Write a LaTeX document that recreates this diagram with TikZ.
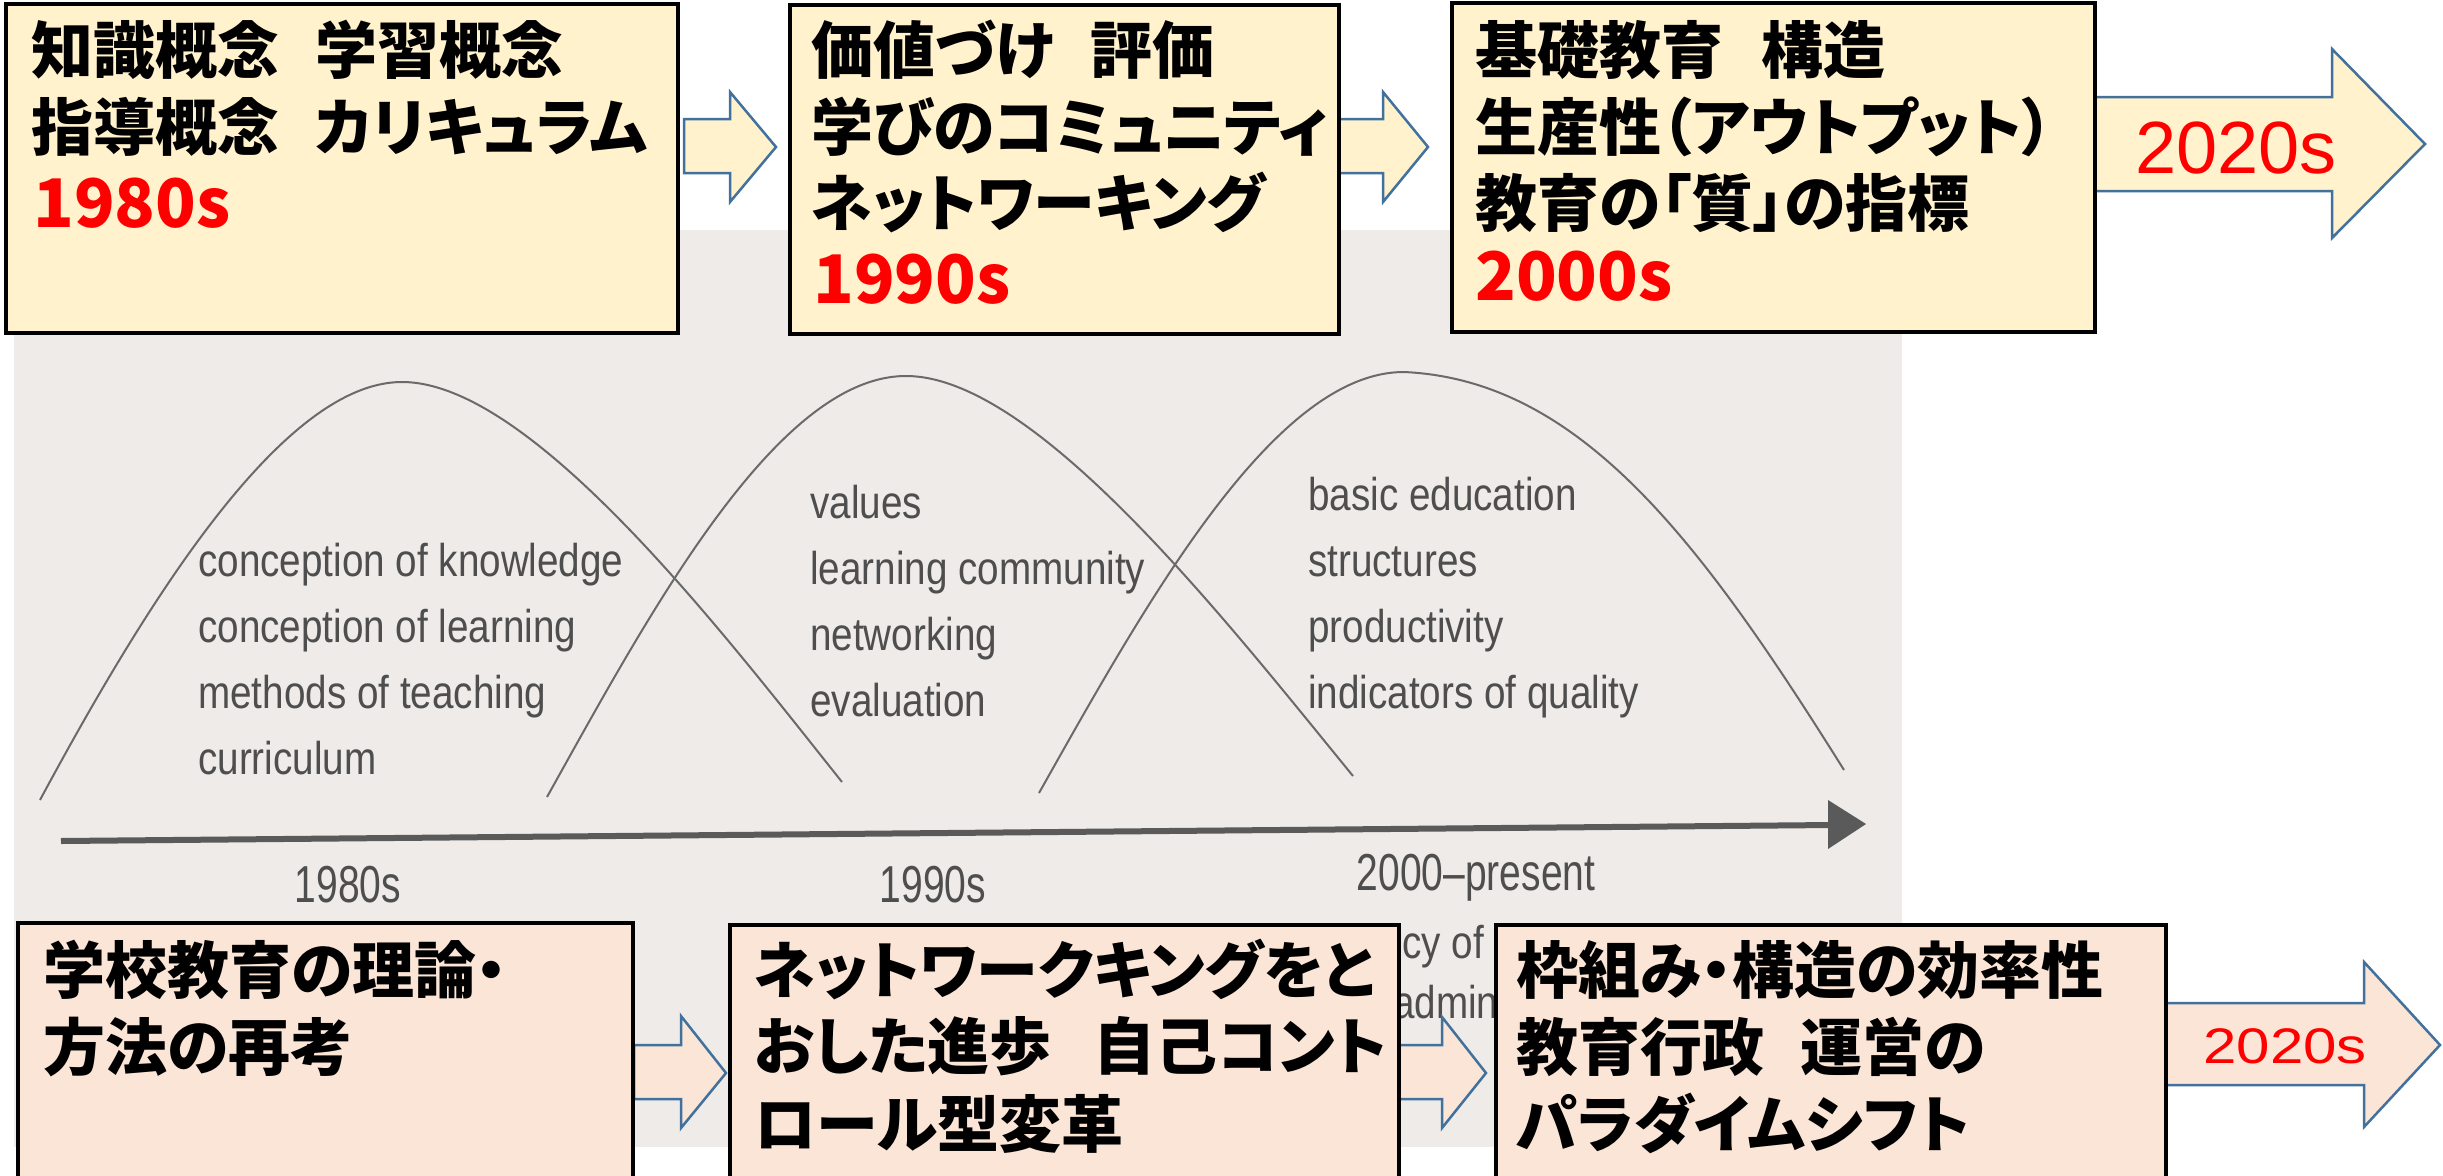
\documentclass[tikz,border=0pt]{standalone}
\usepackage{fontspec}
\newfontfamily\jpf[RawFeature=+palt]{Noto Sans CJK JP}
\newfontfamily\arf{Liberation Sans}
\newfontfamily\arwidef[FakeStretch=1.2]{Liberation Sans}
\newfontfamily\photof[FakeStretch=0.84]{Liberation Sans}
\newfontfamily\photolabf[FakeStretch=0.75]{Liberation Sans}
\usetikzlibrary{calc}
\definecolor{cYellow}{HTML}{FFF2CC}
\definecolor{cPeach}{HTML}{FBE5D6}
\definecolor{cBlue}{HTML}{41719C}
\definecolor{cRed}{HTML}{FF0000}
\definecolor{cPhoto}{HTML}{EEEBE8}
\definecolor{cInk}{HTML}{4E4E4E}
\definecolor{cCurve}{HTML}{6A6A6A}
\definecolor{cAxis}{HTML}{5A5A5A}
\tikzset{
  yellowbox/.style={draw=black, line width=3.5pt, fill=cYellow, anchor=north west, inner sep=0pt, outer sep=0pt},
  peachbox/.style={draw=black, line width=3.5pt, fill=cPeach, anchor=north west, inner sep=0pt, outer sep=0pt},
  jptext/.style={anchor=base west, inner sep=0pt, font=\jpf\bfseries\fontsize{62}{77}\selectfont},
  yeartext/.style={anchor=base west, inner sep=0pt, text=cRed, font=\jpf\bfseries\fontsize{67}{80}\selectfont},
  blockarrow/.style={draw=cBlue, line width=2.5pt, line join=miter},
  phototext/.style={anchor=base west, inner sep=0pt, text=cInk, align=left, font=\photof\fontsize{46}{66}\selectfont},
  photolabel/.style={anchor=base, inner sep=0pt, text=cInk, font=\photolabf\fontsize{52}{60}\selectfont},
  bellcurve/.style={draw=cCurve, line width=2pt},
}
\begin{document}
\begin{tikzpicture}[x=1pt,y=-1pt]
\useasboundingbox (0,0) rectangle (2443,1175);
\fill[white] (0,0) rectangle (2443,1175);

% scanned figure background
\fill[cPhoto] (14,230) rectangle (1902,1147);

% bell curves
\draw[bellcurve] (40,800) .. controls (145,605) and (282,382) .. (402,382)
                  .. controls (532,382) and (724,634) .. (842,782);
\draw[bellcurve] (547,797) .. controls (648,616) and (776,376) .. (906,376)
                  .. controls (1036,376) and (1227,622) .. (1353,776);
\draw[bellcurve] (1039,793) .. controls (1146,603) and (1274,372) .. (1404,372)
                  .. controls (1580,380) and (1700,540) .. (1844,770);

% time axis
\coordinate (axL) at (61,841);
\coordinate (axR) at (1832,825);
\coordinate (axTip) at (1866,824);
\draw[cAxis, line width=6pt] (axL) -- (axR);
\fill[cAxis] (1828,800) -- (axTip) -- (1828,849) -- cycle;

% English texts of the scanned figure (anchored at the baseline of the last line)
\node[phototext] (e1) at (198,774) {conception of knowledge\\conception of learning\\methods of teaching\\curriculum};
\node[phototext] (e2) at (810,716) {values\\learning community\\networking\\evaluation};
\node[phototext] (e3) at (1308,708) {basic education\\structures\\productivity\\indicators of quality};
\node[photolabel] (y1) at (348,902) {1980s};
\node[photolabel] (y2) at (933,902) {1990s};
\node[photolabel] (y3) at (1476,890) {2000–present};
\begin{scope}
  \clip (1399,900) rectangle (1496,1147);
  \node[phototext] (e41) at (1402,958) {cy of};
  \node[phototext] (e42) at (1393,1018) {admin};
\end{scope}

% block arrows (top row)
\draw[blockarrow, fill=cYellow] (684,119) -- (730,119) -- (730,92) -- (776,147) -- (730,202) -- (730,173) -- (684,173) -- cycle;
\draw[blockarrow, fill=cYellow] (1337,119) -- (1383,119) -- (1383,92) -- (1428,147) -- (1383,202) -- (1383,173) -- (1337,173) -- cycle;
\draw[blockarrow, fill=cYellow] (2094,97) -- (2332,97) -- (2332,49) -- (2425,144) -- (2332,238) -- (2332,191) -- (2094,191) -- cycle;
% block arrows (bottom row)
\draw[blockarrow, fill=cPeach] (634,1045) -- (681,1045) -- (681,1016) -- (726,1073) -- (681,1128) -- (681,1099) -- (634,1099) -- cycle;
\draw[blockarrow, fill=cPeach] (1396,1045) -- (1442,1045) -- (1442,1017) -- (1486,1073) -- (1442,1128) -- (1442,1099) -- (1396,1099) -- cycle;
\draw[blockarrow, fill=cPeach] (2166,1003) -- (2364,1003) -- (2364,962) -- (2440,1045) -- (2364,1127) -- (2364,1085) -- (2166,1085) -- cycle;

% top boxes
\node[yellowbox, minimum width=672pt, minimum height=329pt] (b1) at (6,4) {};
\node[yellowbox, minimum width=549pt, minimum height=329pt] (b2) at (790,5) {};
\node[yellowbox, minimum width=643pt, minimum height=329pt] (b3) at (1452,3) {};
% bottom boxes
\node[peachbox, minimum width=615pt, minimum height=280pt] (b4) at (18,923) {};
\node[peachbox, minimum width=669pt, minimum height=280pt] (b5) at (730,925) {};
\node[peachbox, minimum width=670pt, minimum height=280pt] (b6) at (1496,925) {};

% texts in top boxes
\node[jptext] (t11) at (31,73) {知識概念\hspace{36pt}学習概念};
\node[jptext] (t12) at (31,150) {指導概念\hspace{36pt}カリキュラム};
\node[yeartext] (t13) at (33,227) {1980s};
\node[jptext] (t21) at (811,73) {価値づけ\hspace{36pt}評価};
\node[jptext] (t22) at (811,150) {学びのコミュニティ};
\node[jptext] (t23) at (811,226) {ネットワーキング};
\node[yeartext] (t24) at (813,303) {1990s};
\node[jptext] (t31) at (1475,73) {基礎教育\hspace{38pt}構造};
\node[jptext] (t32) at (1475,150) {生産性（アウトプット）};
\node[jptext] (t33) at (1475,226) {教育の「質」の指標};
\node[yeartext] (t34) at (1475,300) {2000s};
\node[anchor=base, inner sep=0pt, text=cRed, font=\arf\fontsize{74}{80}\selectfont] (t35) at (2236,173) {2020s};

% texts in bottom boxes
\node[jptext] (t41) at (43,993) {学校教育の理論・};
\node[jptext] (t42) at (43,1070) {方法の再考};
\node[jptext] (t51) at (754,993) {ネットワークキングをと};
\node[jptext] (t52) at (754,1069) {おした進歩\hspace{42pt}自己コント};
\node[jptext] (t53) at (754,1147) {ロール型変革};
\node[jptext] (t61) at (1516,993) {枠組み・構造の効率性};
\node[jptext] (t62) at (1516,1070) {教育行政\hspace{36pt}運営の};
\node[jptext] (t63) at (1516,1147) {パラダイムシフト};
\node[anchor=base, inner sep=0pt, text=cRed, font=\arwidef\fontsize{50}{60}\selectfont] (t64) at (2285,1063) {2020s};
\end{tikzpicture}
\end{document}
